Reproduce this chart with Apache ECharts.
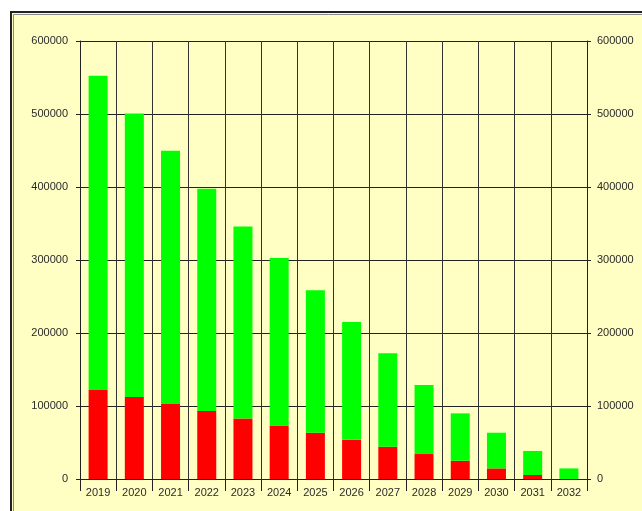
<!DOCTYPE html>
<html>
<head>
<meta charset="utf-8">
<script src="https://cdn.jsdelivr.net/npm/echarts@6/dist/echarts.min.js"></script>
<style>
html,body{margin:0;padding:0;background:#ffffff;}
#chart{width:642px;height:511px;}
</style>
</head>
<body>
<div id="chart"></div>
<script>
const categories = ['2019','2020','2021','2022','2023','2024','2025','2026','2027','2028','2029','2030','2031','2032'];
const redValues = [122000,112300,102700,93200,83000,73400,63400,53800,44300,34200,25000,14500,5500,0];
const greenValues = [430500,388500,347000,304500,263000,229300,195000,161300,127800,94600,64900,48900,32900,14500];
const yTicks = [0,100000,200000,300000,400000,500000,600000];

const chart = echarts.init(document.getElementById('chart'), null, {renderer:'canvas'});
const labelStyle = {color:'#2a2a2a', fontSize:11, fontFamily:'Liberation Sans, Arial, sans-serif', formatter:function(v){return String(v);}};
const yMin = yTicks[0], yMax = yTicks[yTicks.length-1], yInt = yTicks[1]-yTicks[0];
chart.setOption({
  animation:false,
  backgroundColor:'#ffffff',
  graphic:[
    {type:'rect', z:-10, shape:{x:11, y:12, width:660, height:540}, style:{fill:'#FFFFC4', stroke:'#222222', lineWidth:2}},
    {type:'rect', z:-9, shape:{x:13.5, y:14.5, width:660, height:540}, style:{fill:'#FFFFC4', stroke:'#8a8a8a', lineWidth:1}}
  ],
  grid:{left:80, top:41, width:507, height:438, containLabel:false},
  xAxis:{
    type:'category', data:categories, boundaryGap:true,
    axisLine:{show:true, lineStyle:{color:'#222222', width:1}},
    axisTick:{show:true, length:12, alignWithLabel:false, lineStyle:{color:'#222222'}},
    axisLabel:Object.assign({}, labelStyle, {margin:8}),
    splitLine:{show:true, lineStyle:{color:'#333333', width:1}}
  },
  yAxis:[
    {type:'value', min:yMin, max:yMax, interval:yInt, position:'left',
     axisLine:{show:true, lineStyle:{color:'#222222'}},
     axisTick:{show:true, length:4, lineStyle:{color:'#222222'}},
     axisLabel:Object.assign({}, labelStyle, {margin:12}),
     splitLine:{show:true, lineStyle:{color:'#222222', width:1}}},
    {type:'value', min:yMin, max:yMax, interval:yInt, position:'right',
     axisLine:{show:true, lineStyle:{color:'#222222'}},
     axisTick:{show:true, length:4, lineStyle:{color:'#222222'}},
     axisLabel:Object.assign({}, labelStyle, {margin:10}),
     splitLine:{show:false}}
  ],
  series:[
    {name:'red', type:'bar', stack:'s', data:redValues, barWidth:19, itemStyle:{color:'#FF0000'}},
    {name:'green', type:'bar', stack:'s', data:greenValues, barWidth:19, itemStyle:{color:'#00FF00'}}
  ]
});
</script>
</body>
</html>
